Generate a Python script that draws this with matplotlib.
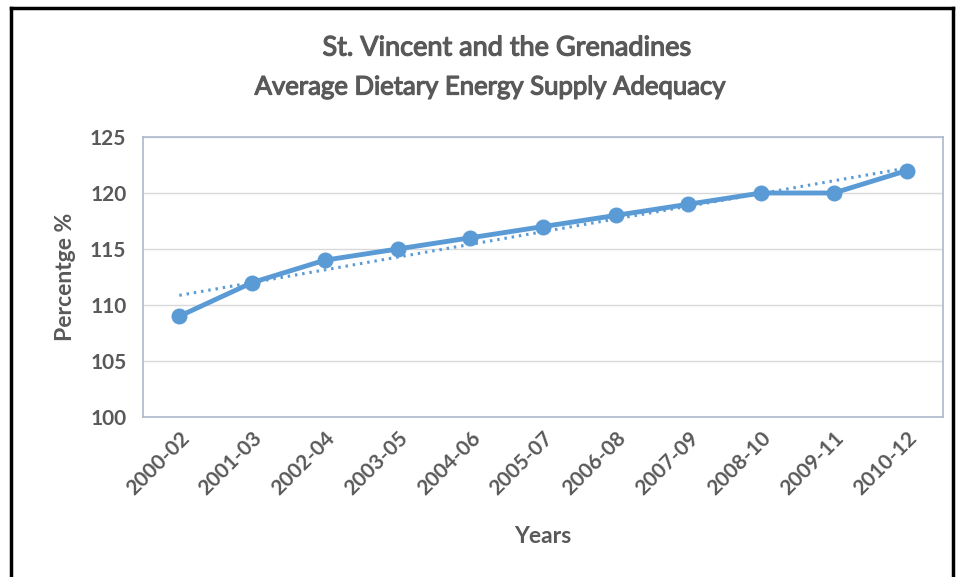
import matplotlib
matplotlib.use("Agg")
import matplotlib.pyplot as plt
import matplotlib.patheffects as pe
from matplotlib.lines import Line2D
import numpy as np

periods = ["2000-02", "2001-03", "2002-04", "2003-05", "2004-06", "2005-07",
           "2006-08", "2007-09", "2008-10", "2009-11", "2010-12"]
values = [109, 112, 114, 115, 116, 117, 118, 119, 120, 120, 122]
yticks = [100, 105, 110, 115, 120, 125]

plt.rcParams['font.family'] = ['Lato', 'DejaVu Sans']
gray = '#595959'
blue = '#5b9bd5'

fig = plt.figure(figsize=(9.58, 5.77), dpi=100)
ax = fig.add_axes([143/958, 1-417/577, 800/958, 280/577])

x = np.arange(len(values))
coef = np.polyfit(x, values, 1)
trend = np.polyval(coef, x)
ax.plot(x, trend, linestyle=(0, (0.8, 1.6)), color=blue, linewidth=2.2, zorder=2)
ax.plot(x, values, color=blue, linewidth=3.5, marker='o', markersize=10.5, zorder=3)

ax.set_xlim(-0.5, len(values) - 0.5)
ax.set_ylim(100, 125)
ax.set_yticks(yticks)
ax.set_yticklabels([str(v) for v in yticks])
ax.set_xticks(x)
ax.set_xticklabels(periods, rotation=45, ha='right', rotation_mode='anchor')
ax.tick_params(axis='both', length=0, labelsize=15, labelcolor=gray)
for lbl in ax.get_xticklabels() + ax.get_yticklabels():
    lbl.set_fontweight('bold')
ax.tick_params(axis='y', pad=12)
ax.tick_params(axis='x', pad=8)
ax.grid(axis='y', color='#d9d9d9', linewidth=1)
ax.set_axisbelow(True)
for s in ax.spines.values():
    s.set_color('#adb9ca')
    s.set_linewidth(1.2)

ax.set_ylabel("Percentge %", fontsize=16.5, fontweight='bold', color=gray, labelpad=10)
ax.set_xlabel("Years", fontsize=16.5, fontweight='bold', color=gray, labelpad=19)

thick = [pe.withStroke(linewidth=0.9, foreground=gray)]
fig.text(507/958, 1 - 48/577, "St. Vincent and the Grenadines",
         ha='center', va='center', fontsize=19.5, color=gray, path_effects=thick)
fig.text(491/958, 1 - 87/577, "Average Dietary Energy Supply Adequacy",
         ha='center', va='center', fontsize=18.5, color=gray, path_effects=thick)

# outer border
fig.add_artist(Line2D([11/958, 11/958], [0, 1 - 8/577], color='black', linewidth=2.5, transform=fig.transFigure))
fig.add_artist(Line2D([11/958, 953/958], [1 - 8/577, 1 - 8/577], color='black', linewidth=2.5, transform=fig.transFigure))
fig.add_artist(Line2D([953/958, 953/958], [0, 1 - 8/577], color='black', linewidth=2.5, transform=fig.transFigure))

fig.savefig("out.png", dpi=100)
